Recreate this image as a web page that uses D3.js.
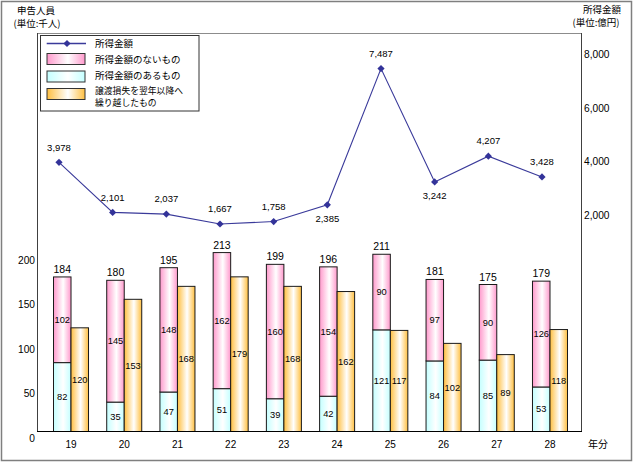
<!DOCTYPE html>
<html><head><meta charset="utf-8">
<script src="https://cdn.jsdelivr.net/npm/d3@7"></script>
<style>
html,body{margin:0;padding:0;background:#fff;}
svg{display:block;}
text{font-family:"Liberation Sans",Arial,sans-serif;fill:#000;}
.jp{font-family:"Noto Sans CJK JP","Noto Sans",sans-serif;}
</style></head>
<body>
<svg id="c" width="637" height="464"></svg>
<script>
// ---- data ----
const categories = ["19","20","21","22","23","24","25","26","27","28"];
const withIncome = [82,35,47,51,39,42,121,84,85,53];        // 所得金額のあるもの
const noIncome = [102,145,148,162,160,154,90,97,90,126];     // 所得金額のないもの
const totals = [184,180,195,213,199,196,211,181,175,179];
const carryOver = [120,153,168,179,168,162,117,102,89,118];  // 譲渡損失を翌年以降へ繰り越したもの
const incomeAmount = [3978,2101,2037,1667,1758,2385,7487,3242,4207,3428]; // 所得金額(億円)
const incomeLabelBelow = ["24","26"];
const leftTicks = [0,50,100,150,200];
const rightTicks = [2000,4000,6000,8000];

const svg = d3.select("#c");
const plot = {l:38, r:582, t:33, b:431.5};

// gradients
const defs = svg.append("defs");
function grad(id, c){
  const g = defs.append("linearGradient").attr("id",id).attr("x1","0").attr("x2","1").attr("y1","0").attr("y2","0");
  g.append("stop").attr("offset","0").attr("stop-color",c);
  g.append("stop").attr("offset","0.55").attr("stop-color","#fff");
  g.append("stop").attr("offset","1").attr("stop-color",c);
}
grad("gPink","#FF99CC");
grad("gCyan","#C4FFFF");
grad("gOrange","#FFBF40");

// outer frame
svg.append("rect").attr("x",1.5).attr("y",1.5).attr("width",630).attr("height",459)
  .attr("fill","#fff").attr("stroke","#7f7f7f").attr("stroke-width",1.5);

// scales
const x = d3.scaleBand().domain(categories).range([44.4,576.6]).paddingInner(0.342).paddingOuter(0.171);
const xSub = d3.scaleBand().domain(["stack","carry"]).range([0, x.bandwidth()]);
const xLine = d3.scalePoint().domain(categories).range([59,542]);
const yStack = d3.scaleLinear().domain([0,200]).range([plot.b, plot.b-168]);
const yCarry = d3.scaleLinear().domain([0,200]).range([plot.b, plot.b-172.8]);
const yLeftLab = d3.scaleLinear().domain([0,200]).range([438.3,260]);
const yRight = d3.scaleLinear().domain([0,8000]).range([268.5,54.9]);

// plot frame
svg.append("line").attr("x1",plot.l).attr("x2",plot.r).attr("y1",plot.t+0.5).attr("y2",plot.t+0.5).attr("stroke","#8c8c8c");
svg.append("line").attr("x1",plot.l-0.5).attr("x2",plot.l-0.5).attr("y1",plot.t).attr("y2",plot.b).attr("stroke","#404040");
svg.append("line").attr("x1",plot.r-0.5).attr("x2",plot.r-0.5).attr("y1",plot.t).attr("y2",plot.b).attr("stroke","#404040");

// bars
const rows = categories.map((c,i)=>({c, w:withIncome[i], n:noIncome[i], t:totals[i], o:carryOver[i]}));
const g = svg.append("g");
const bw = xSub.bandwidth();
const grp = g.selectAll("g.cat").data(rows).join("g").attr("class","cat")
  .attr("transform", d=>`translate(${x(d.c)},0)`);
grp.append("rect").attr("x",xSub("stack")).attr("width",bw)
  .attr("y",d=>yStack(d.w)).attr("height",d=>yStack(0)-yStack(d.w))
  .attr("fill","url(#gCyan)").attr("stroke","#1a1a1a").attr("stroke-width",1);
grp.append("rect").attr("x",xSub("stack")).attr("width",bw)
  .attr("y",d=>yStack(d.w+d.n)).attr("height",d=>yStack(d.w)-yStack(d.w+d.n))
  .attr("fill","url(#gPink)").attr("stroke","#1a1a1a").attr("stroke-width",1);
grp.append("rect").attr("x",xSub("carry")).attr("width",bw)
  .attr("y",d=>yCarry(d.o)).attr("height",d=>yCarry(0)-yCarry(d.o))
  .attr("fill","url(#gOrange)").attr("stroke","#1a1a1a").attr("stroke-width",1);

// bar labels
grp.append("text").attr("x",xSub("stack")+bw/2).attr("y",d=>yStack(d.t)-4)
  .attr("text-anchor","middle").attr("font-size",10.5).text(d=>d.t);
grp.append("text").attr("x",xSub("stack")+bw/2).attr("y",d=>(yStack(d.w)+yStack(d.w+d.n))/2)
  .attr("dy","0.35em").attr("text-anchor","middle").attr("font-size",9.3).text(d=>d.n);
grp.append("text").attr("x",xSub("stack")+bw/2).attr("y",d=>(yStack(0)+yStack(d.w))/2)
  .attr("dy","0.35em").attr("text-anchor","middle").attr("font-size",9.3).text(d=>d.w);
grp.append("text").attr("x",xSub("carry")+bw/2).attr("y",d=>(yCarry(0)+yCarry(d.o))/2)
  .attr("dy","0.35em").attr("text-anchor","middle").attr("font-size",9.3).text(d=>d.o);

// bottom axis line
svg.append("line").attr("x1",plot.l-1).attr("x2",plot.r).attr("y1",plot.b).attr("y2",plot.b).attr("stroke","#000").attr("stroke-width",1.2);

// x labels
svg.append("g").selectAll("text").data(categories).join("text")
  .attr("x",d=>x(d)+x.bandwidth()/2).attr("y",444).attr("dy","0.35em")
  .attr("text-anchor","middle").attr("font-size",10).text(d=>d);
svg.append("text").attr("class","jp").attr("x",598).attr("y",444).attr("dy","0.35em")
  .attr("text-anchor","middle").attr("font-size",10).text("年分");

// left axis labels
svg.append("g").selectAll("text").data(leftTicks).join("text")
  .attr("x",35).attr("y",d=>yLeftLab(d)).attr("dy","0.35em").attr("text-anchor","end")
  .attr("font-size",10.2).text(d=>d);

// right axis labels
svg.append("g").selectAll("text").data(rightTicks).join("text")
  .attr("x",584).attr("y",d=>yRight(d)).attr("dy","0.35em").attr("text-anchor","start")
  .attr("font-size",10.2).text(d=>d3.format(",")(d));

// line
const lineData = categories.map((c,i)=>({c, v:incomeAmount[i]}));
const line = d3.line().x(d=>xLine(d.c)).y(d=>yRight(d.v));
svg.append("path").datum(lineData).attr("d",line).attr("fill","none").attr("stroke","#3A3A9A").attr("stroke-width",1.1);
const diamond = d3.symbol().type(d3.symbolSquare).size(26);
svg.append("g").selectAll("path").data(lineData).join("path")
  .attr("d",diamond).attr("transform",d=>`translate(${xLine(d.c)},${yRight(d.v)}) rotate(45)`).attr("fill","#333399");
svg.append("g").selectAll("text").data(lineData).join("text")
  .attr("x",d=>xLine(d.c)).attr("y",d=>yRight(d.v) + (incomeLabelBelow.includes(d.c)?14:-15))
  .attr("dy","0.35em").attr("text-anchor","middle").attr("font-size",9.5)
  .text(d=>d3.format(",")(d.v));

// titles
svg.append("text").attr("class","jp").attr("x",36).attr("y",11).attr("dy","0.35em").attr("text-anchor","middle").attr("font-size",9.5).text("申告人員");
svg.append("text").attr("class","jp").attr("x",37).attr("y",24).attr("dy","0.35em").attr("text-anchor","middle").attr("font-size",9.5).text("(単位:千人)");
svg.append("text").attr("class","jp").attr("x",602).attr("y",10).attr("dy","0.35em").attr("text-anchor","middle").attr("font-size",9.5).text("所得金額");
svg.append("text").attr("class","jp").attr("x",596).attr("y",23).attr("dy","0.35em").attr("text-anchor","middle").attr("font-size",9.5).text("(単位:億円)");

// legend
const lg = svg.append("g");
lg.append("rect").attr("x",40.5).attr("y",35.5).attr("width",158.5).attr("height",75.5)
  .attr("fill","#fff").attr("stroke","#333").attr("stroke-width",1);
lg.append("line").attr("x1",46.7).attr("x2",86).attr("y1",43.5).attr("y2",43.5).attr("stroke","#3A3A9A").attr("stroke-width",1.3);
lg.append("path").attr("d",diamond).attr("transform","translate(67,43.5) rotate(45)").attr("fill","#333399");
const sw = [["gPink",53.5],["gCyan",71],["gOrange",88.5]];
lg.selectAll("rect.sw").data(sw).join("rect").attr("class","sw")
  .attr("x",47).attr("y",d=>d[1]).attr("width",38).attr("height",11)
  .attr("fill",d=>`url(#${d[0]})`).attr("stroke","#333").attr("stroke-width",1);
const lt = [["所得金額",43.5,9.5],["所得金額のないもの",60,9.5],["所得金額のあるもの",76,9.5],["譲渡損失を翌年以降へ",91,8.8],["繰り越したもの",102.5,8.8]];
lg.selectAll("text").data(lt).join("text").attr("class","jp")
  .attr("x",95).attr("y",d=>d[1]).attr("dy","0.35em").attr("font-size",d=>d[2]).text(d=>d[0]);
</script>
</body></html>
